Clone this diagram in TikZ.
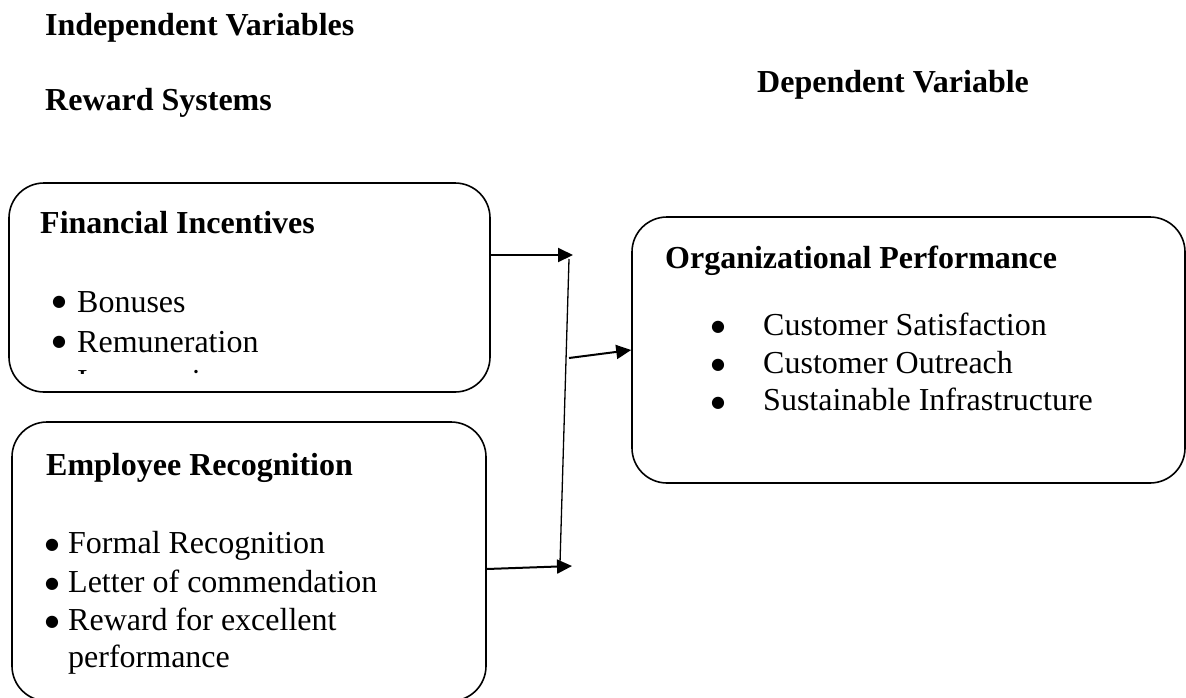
\documentclass[tikz,border=0pt]{standalone}
\usepackage{fontspec}
\setmainfont{Liberation Serif}
\newfontfamily\symfont{DejaVu Sans}
\usetikzlibrary{arrows.meta}
\begin{document}
\begin{tikzpicture}[x=1pt,y=-1pt,
  txt/.style={inner sep=0pt,anchor=base west,font=\fontsize{32}{38}\selectfont},
  head/.style={txt,font=\fontsize{32}{38}\selectfont\bfseries},
  dot/.style={inner sep=0pt,anchor=center,font=\symfont\fontsize{16}{16}\selectfont},
  box/.style={draw,line width=1.6pt,rounded corners=35pt,inner sep=0pt},
  arr/.style={line width=2pt,-{Triangle[length=15pt,width=14pt]}},
  stem/.style={line width=1.3pt}]
\useasboundingbox (0,0) rectangle (1186,697);

% section headings
\node[head] (iv) at (45,35) {Independent Variables};
\node[head] (rs) at (45,110) {Reward Systems};
\node[head] (dv) at (757,92) {Dependent Variable};

% boxes
\node[box,minimum width=481pt,minimum height=209pt] (fin) at (249.5,287.5) {};
\node[box,minimum width=474pt,minimum height=279pt] (emp) at (249,561.5) {};
\node[box,minimum width=553pt,minimum height=266pt] (perf) at (908.5,350) {};

% financial incentives
\node[head] (fint) at (40,233) {Financial Incentives};
\node[dot] (fb1) at (59,302) {●};
\node[txt] (f1) at (77,312) {Bonuses};
\node[dot] (fb2) at (59,342) {●};
\node[txt] (f2) at (77,352) {Remuneration};
\begin{scope}
  \clip (0,0) rectangle (1186,373);
  \node[txt] (f3) at (77,391) {Increase in pay};
\end{scope}

% employee recognition
\node[head] (empt) at (46,475) {Employee Recognition};
\node[dot] (eb1) at (52,545) {●};
\node[txt] (e1) at (68,553) {Formal Recognition};
\node[dot] (eb2) at (52,584) {●};
\node[txt] (e2) at (68,592) {Letter of commendation};
\node[dot] (eb3) at (52,622) {●};
\node[txt] (e3) at (68,630) {Reward for excellent};
\node[txt] (e4) at (68,667) {performance};

% organizational performance
\node[head] (perft) at (665,268) {Organizational Performance};
\node[dot] (pb1) at (718,327) {●};
\node[txt] (p1) at (763,335) {Customer Satisfaction};
\node[dot] (pb2) at (718,365) {●};
\node[txt] (p2) at (763,373) {Customer Outreach};
\node[dot] (pb3) at (718,403) {●};
\node[txt] (p3) at (763,410) {Sustainable Infrastructure};

% connectors
\coordinate (t1) at (573,255);
\coordinate (v1) at (569,259);
\coordinate (v2) at (560,563);
\coordinate (m1) at (569,358);
\coordinate (b0) at (486,569);
\coordinate (t2) at (572,566);

\draw[arr] (fin.east |- t1) -- (t1);
\draw[stem] (v1) -- (v2);
\draw[arr] (m1) -- (perf.west);
\draw[arr] (emp.east |- b0) -- (t2);
\end{tikzpicture}
\end{document}
